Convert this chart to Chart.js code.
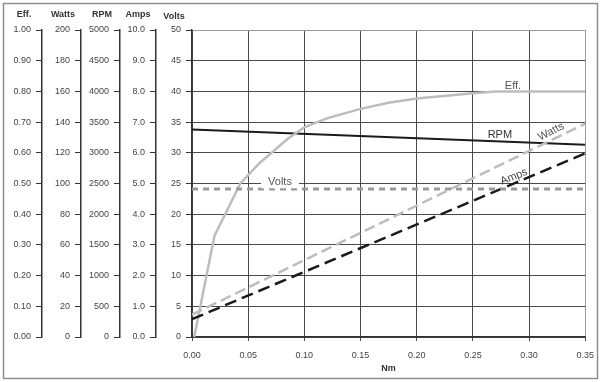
<!DOCTYPE html>
<html><head><meta charset="utf-8">
<script src="https://cdn.jsdelivr.net/npm/chart.js@4"></script>
<style>html,body{margin:0;padding:0;background:#fff}#wrap{width:600px;height:382px;position:relative}canvas{display:block}</style>
</head><body><div id="wrap"><canvas id="c" width="600" height="382" style="width:600px;height:382px"></canvas></div>
<script>
// ---- data ----
const effTorque  = [0.002, 0.020, 0.030, 0.043, 0.060, 0.085, 0.100, 0.120, 0.150, 0.175, 0.200, 0.250, 0.270, 0.350];
const effValues  = [0.000, 0.330, 0.403, 0.500, 0.566, 0.645, 0.683, 0.712, 0.743, 0.763, 0.777, 0.794, 0.800, 0.800];
const lineTorque = [0, 0.35];
const rpmValues   = [3380, 3130];
const wattsValues = [14.5, 139];
const ampsValues  = [0.58, 5.98];
const voltsValues = [24.1, 24.1];

const axisTitles = ['Eff.', 'Watts', 'RPM', 'Amps', 'Volts'];
const axisMax    = [1.0, 200, 5000, 10.0, 50];
const axisStep   = [0.1, 20, 500, 1.0, 5];
const axisDigits = [2, 0, 0, 1, 0];
const torqueMax = 0.35, torqueStep = 0.05;

const FONT = "'Liberation Sans', Arial, Helvetica, sans-serif";
const axisIds = ['yEff', 'yWatts', 'yRpm', 'yAmps', 'yVolts'];
const axisWidths = [42, 39, 39, 36, 36];

function pts(xs, ys){ return xs.map((x,i)=>({x, y: ys[i]})); }

const scales = {
  x: {
    type:'linear', min:0, max:torqueMax,
    ticks:{stepSize:torqueStep, autoSkip:false, maxRotation:0, padding:6,
      font:{family:FONT,size:9,lineHeight:1.9}, color:'#444', callback:v=>Number(v).toFixed(2)},
    grid:{color:c=> (c.tick && c.tick.value > torqueMax-1e-6) ? '#9a9a9a' : '#4a4a4a',
      lineWidth:1, tickLength:4, tickColor:'#4a4a4a'},
    border:{display:true, color:'#333', width:1.5},
    title:{display:true, text:'Nm', color:'#333', font:{family:FONT,size:9,weight:'bold'}, padding:{top:2,bottom:8}},
    afterFit:s=>{ s.height = 45; }
  }
};
axisIds.forEach((id,i)=>{
  const main = (id === 'yVolts');
  scales[id] = {
    type:'linear', position:'left', min:0, max:axisMax[i], weight: 5-i,
    ticks:{stepSize:axisStep[i], autoSkip:false, padding:5,
      font:{family:FONT,size:9}, color:'#444',
      callback:v=>Number(v).toFixed(axisDigits[i])},
    grid:{drawOnChartArea:main, lineWidth:1, tickLength:6, tickColor:'#333',
      color:c=> (c.tick && c.tick.value > axisMax[i]-1e-6) ? '#9a9a9a' : '#4a4a4a'},
    border:{display:true, color:'#333', width:1.5},
    afterFit:s=>{ s.width = axisWidths[i]; }
  };
});

const lineLabels = [
  {text:'Eff.',  x:0.2857, y:0.817, axis:'yEff',   angle:0,   color:'#555'},
  {text:'RPM',   x:0.274,  y:3290,  axis:'yRpm',   angle:0,   color:'#333'},
  {text:'Watts', x:0.3197, y:133.7, axis:'yWatts', angle:-27, color:'#555'},
  {text:'Amps',  x:0.2866, y:5.22,  axis:'yAmps',  angle:-22, color:'#444'},
  {text:'Volts', x:0.0783, y:25.2,  axis:'yVolts', angle:0,   color:'#555', bg:7}
];

const decor = {
  id:'decor',
  beforeDraw(chart){
    const ctx = chart.ctx; ctx.save(); ctx.fillStyle='#fff'; ctx.fillRect(0,0,chart.width,chart.height); ctx.restore();
  },
  afterDatasetsDraw(chart){
    const {ctx, scales:sc} = chart;
    lineLabels.forEach(l=>{
      const px = sc.x.getPixelForValue(l.x), py = sc[l.axis].getPixelForValue(l.y);
      ctx.save(); ctx.translate(px,py); ctx.rotate(l.angle*Math.PI/180);
      ctx.font = '11px ' + FONT; ctx.textAlign='center'; ctx.textBaseline='middle';
      if (l.bg){ const w = ctx.measureText(l.text).width; ctx.fillStyle='#fff'; ctx.fillRect(-w/2-l.bg, -7, w+2*l.bg, 13); }
      ctx.fillStyle = l.color; ctx.fillText(l.text, 0, 0); ctx.restore();
    });
  },
  afterDraw(chart){
    const ctx = chart.ctx;
    ctx.save();
    ctx.font = 'bold 9px ' + FONT; ctx.fillStyle='#333'; ctx.textAlign='center'; ctx.textBaseline='middle';
    axisIds.forEach((id,i)=>{
      const s = chart.scales[id];
      ctx.fillText(axisTitles[i], s.right - 18, id==='yVolts' ? 17 : 15);
    });
    ctx.strokeStyle='#8f8f8f'; ctx.lineWidth=1.5;
    ctx.strokeRect(3.5, 3.5, 594, 375);
    ctx.restore();
  }
};

new Chart(document.getElementById('c'), {
  type:'line',
  data:{datasets:[
    {label:'Volts', data:pts(lineTorque, voltsValues), yAxisID:'yVolts', borderColor:'#9a9a9a', borderWidth:3, borderDash:[6,5]},
    {label:'Amps',  data:pts(lineTorque, ampsValues),  yAxisID:'yAmps',  borderColor:'#1a1a1a', borderWidth:2.5, borderDash:[12,6]},
    {label:'Watts', data:pts(lineTorque, wattsValues), yAxisID:'yWatts', borderColor:'#bdbdbd', borderWidth:2.5, borderDash:[11,5]},
    {label:'Eff.',  data:pts(effTorque, effValues),    yAxisID:'yEff',   borderColor:'#bdbdbd', borderWidth:2.5},
    {label:'RPM',   data:pts(lineTorque, rpmValues),   yAxisID:'yRpm',   borderColor:'#1a1a1a', borderWidth:2}
  ]},
  options:{
    responsive:false, animation:false, devicePixelRatio:1,
    layout:{padding:{top:30, right:13, bottom:0, left:0}},
    elements:{point:{radius:0}, line:{tension:0, fill:false}},
    plugins:{legend:{display:false}, tooltip:{enabled:false}},
    scales
  },
  plugins:[decor]
});
</script></body></html>
